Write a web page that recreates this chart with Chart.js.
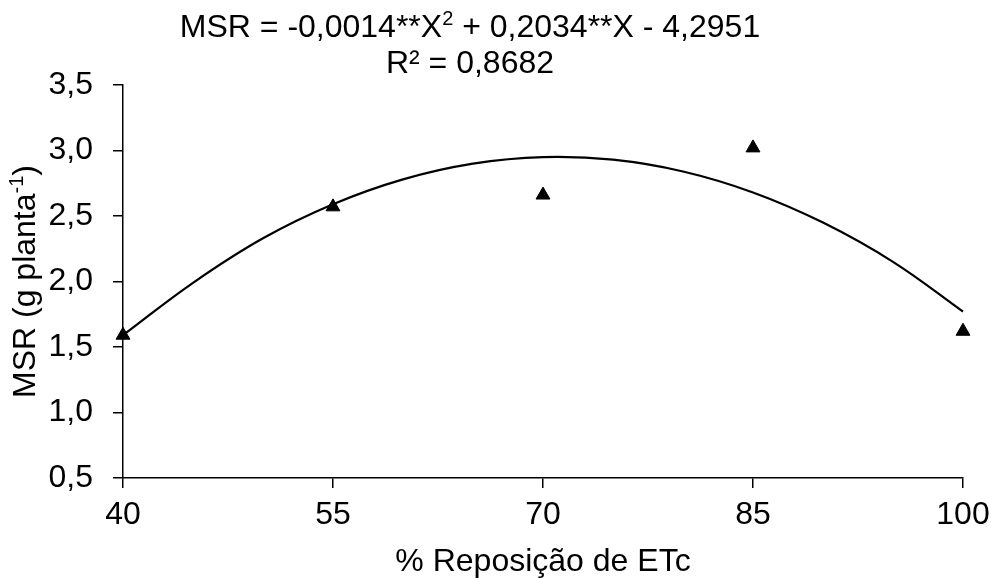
<!DOCTYPE html>
<html>
<head>
<meta charset="utf-8">
<script src="https://cdn.jsdelivr.net/npm/chart.js@4/dist/chart.umd.min.js"></script>
<style>
html,body{margin:0;padding:0;background:#fff;}
#wrap{width:991px;height:578px;position:relative;}
</style>
</head>
<body>
<div id="wrap"><canvas id="c" width="991" height="578"></canvas></div>
<script>
// Observed means (triangles)
const obsX = [40, 55, 70, 85, 100];
const obsY = [1.59, 2.57, 2.66, 3.02, 1.62];
// Fitted curve
const fitX = [40, 45, 50, 55, 60, 65, 70, 75, 80, 85, 90, 95, 100];
const fitY = [1.59, 1.99, 2.33, 2.59, 2.78, 2.90, 2.95, 2.93, 2.84, 2.68, 2.45, 2.15, 1.77];
// Tick values
const xTicks = [40, 55, 70, 85, 100];
const yTicks = [0.5, 1.0, 1.5, 2.0, 2.5, 3.0, 3.5];
// Texts
const titleLine1 = [{t: 'MSR = -0,0014**X'}, {t: '2', sup: true}, {t: ' + 0,2034**X - 4,2951'}];
const titleLine2 = [{t: 'R² = 0,8682'}];
const yTitle = [{t: 'MSR (g planta'}, {t: '-1', sup: true}, {t: ')'}];
const xTitle = '% Reposição de ETc';

const FONT = '"Liberation Sans", Arial, sans-serif';
const FS = 32;

function richWidth(ctx, parts, fs) {
  let w = 0;
  parts.forEach(p => {
    ctx.font = (p.sup ? Math.round(fs * 0.62) : fs) + 'px ' + FONT;
    w += ctx.measureText(p.t).width;
  });
  return w;
}
function drawRich(ctx, parts, cx, baseline, fs) {
  const w = richWidth(ctx, parts, fs);
  let x = cx - w / 2;
  ctx.textAlign = 'left';
  ctx.textBaseline = 'alphabetic';
  parts.forEach(p => {
    ctx.font = (p.sup ? Math.round(fs * 0.62) : fs) + 'px ' + FONT;
    ctx.fillText(p.t, x, p.sup ? baseline - fs * 0.38 : baseline);
    x += ctx.measureText(p.t).width;
  });
}

const textPlugin = {
  id: 'texts',
  afterDraw(chart) {
    const ctx = chart.ctx;
    ctx.save();
    ctx.fillStyle = '#000';
    drawRich(ctx, titleLine1, 470, 37, FS);
    drawRich(ctx, titleLine2, 470, 73, FS);
    const ca = chart.chartArea;
    drawRich(ctx, [{t: xTitle}], (ca.left + ca.right) / 2, 571, FS);
    ctx.translate(35, (ca.top + ca.bottom) / 2);
    ctx.rotate(-Math.PI / 2);
    drawRich(ctx, yTitle, 0, 0, FS);
    ctx.restore();
  }
};

new Chart(document.getElementById('c'), {
  type: 'scatter',
  data: {
    datasets: [
      {
        type: 'line',
        data: fitX.map((x, i) => ({x: x, y: fitY[i]})),
        borderColor: '#000',
        borderWidth: 2.2,
        pointRadius: 0,
        tension: 0.4,
        fill: false,
        clip: false,
        order: 1
      },
      {
        data: obsX.map((x, i) => ({x: x, y: obsY[i]})),
        pointStyle: 'triangle',
        pointRadius: 8,
        backgroundColor: '#000',
        borderColor: '#000',
        borderWidth: 1,
        showLine: false,
        clip: false,
        order: 2
      }
    ]
  },
  options: {
    responsive: false,
    animation: false,
    layout: {padding: {top: 85, right: 28, left: 0, bottom: 0}},
    plugins: {legend: {display: false}, tooltip: {enabled: false}, title: {display: false}},
    scales: {
      x: {
        type: 'linear',
        min: 40, max: 100,
        afterBuildTicks: s => { s.ticks = xTicks.map(v => ({value: v})); },
        afterFit: s => { s.height = 100; s.paddingLeft = 0; s.paddingRight = 0; },
        grid: {drawOnChartArea: false, drawTicks: true, tickLength: 10, color: '#000', lineWidth: 1.5},
        border: {display: true, color: '#000', width: 1.5},
        ticks: {color: '#000', font: {family: FONT, size: FS}, padding: 8, maxRotation: 0,
          callback: v => String(v)}
      },
      y: {
        min: 0.5, max: 3.5,
        afterBuildTicks: s => { s.ticks = yTicks.map(v => ({value: v})); },
        afterFit: s => { s.width = 123; s.paddingTop = 0; s.paddingBottom = 0; },
        grid: {drawOnChartArea: false, drawTicks: true, tickLength: 10, color: '#000', lineWidth: 1.5},
        border: {display: true, color: '#000', width: 1.5},
        ticks: {color: '#000', font: {family: FONT, size: FS}, padding: 20,
          callback: v => v.toFixed(1).replace('.', ',')}
      }
    }
  },
  plugins: [textPlugin]
});
</script>
</body>
</html>
